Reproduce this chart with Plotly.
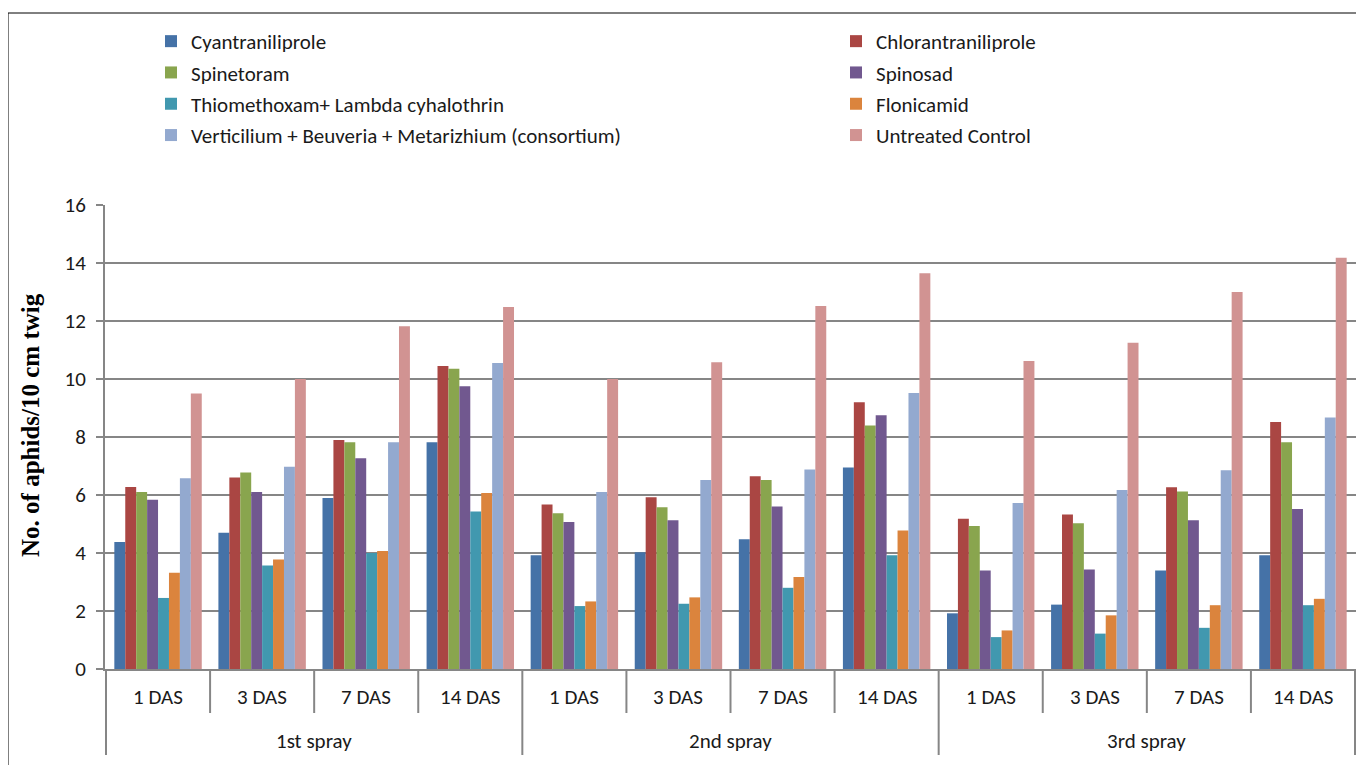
import plotly.graph_objects as go

sprays = ["1st spray", "2nd spray", "3rd spray"]
das = ["1 DAS", "3 DAS", "7 DAS", "14 DAS"]

treatments = [
    "Cyantraniliprole", "Chlorantraniliprole", "Spinetoram", "Spinosad",
    "Thiomethoxam+ Lambda cyhalothrin", "Flonicamid",
    "Verticilium + Beuveria + Metarizhium (consortium)", "Untreated Control",
]
colors = ["#4572A7", "#AA4643", "#89A54E", "#71588F", "#4198AF", "#DB843D", "#93A9CF", "#D19392"]

cyantraniliprole = [4.38, 4.70, 5.90, 7.82, 3.92, 4.03, 4.47, 6.95, 1.92, 2.22, 3.40, 3.92]
chlorantraniliprole = [6.28, 6.60, 7.90, 10.45, 5.67, 5.92, 6.65, 9.20, 5.18, 5.33, 6.27, 8.52]
spinetoram = [6.10, 6.78, 7.82, 10.35, 5.37, 5.58, 6.52, 8.40, 4.93, 5.03, 6.12, 7.82]
spinosad = [5.84, 6.10, 7.27, 9.75, 5.07, 5.13, 5.60, 8.75, 3.40, 3.43, 5.13, 5.52]
thiomethoxam = [2.45, 3.57, 4.00, 5.43, 2.17, 2.25, 2.80, 3.92, 1.10, 1.22, 1.42, 2.20]
flonicamid = [3.32, 3.78, 4.07, 6.07, 2.33, 2.47, 3.17, 4.78, 1.33, 1.85, 2.20, 2.42]
consortium = [6.58, 6.97, 7.82, 10.55, 6.10, 6.52, 6.88, 9.52, 5.72, 6.17, 6.85, 8.67]
control = [9.50, 10.00, 11.82, 12.48, 10.00, 10.58, 12.52, 13.65, 10.62, 11.25, 13.00, 14.18]

series = [cyantraniliprole, chlorantraniliprole, spinetoram, spinosad,
          thiomethoxam, flonicamid, consortium, control]

x_outer = [s for s in sprays for _ in das]
x_inner = [d for _ in sprays for d in das]

LABEL_FONT = "Calibri, Carlito, Liberation Sans Narrow, Arial Narrow, sans-serif"
GRID = "#868686"
TEXT = "#1a1a1a"

W, H = 1356, 757
ML, MR, MT, MB = 97, 8, 197, 96
PW, PH = W - ML - MR, H - MT - MB

fig = go.Figure()
for i, (name, vals, col) in enumerate(zip(treatments, series, colors)):
    fig.add_trace(go.Bar(
        x=[x_outer, x_inner], y=vals, name=name,
        marker=dict(color=col, line=dict(width=0)),
        legend="legend" if i % 2 == 0 else "legend2",
        legendgroup=str(i),
    ))

leg_common = dict(yanchor="top", xanchor="left", font=dict(size=21, color=TEXT),
                  tracegroupgap=1, bgcolor="rgba(0,0,0,0)", itemwidth=30)
fig.update_layout(
    width=W, height=H,
    margin=dict(l=ML, r=MR, t=MT, b=MB),
    paper_bgcolor="white", plot_bgcolor="white",
    barmode="group", bargap=0.16, bargroupgap=0,
    font=dict(family=LABEL_FONT, size=21, color=TEXT),
    showlegend=True,
    legend=dict(x=(143 - ML) / PW, y=1 + (MT - 13) / PH, **leg_common),
    legend2=dict(x=(828 - ML) / PW, y=1 + (MT - 13) / PH, **leg_common),
    xaxis=dict(
        type="multicategory", showline=True, linecolor=GRID, linewidth=2,
        showdividers=False, showticklabels=False, ticks="", showgrid=False,
    ),
    yaxis=dict(
        range=[0, 16], tick0=0, dtick=2, showgrid=True, gridcolor=GRID, gridwidth=2,
        showline=True, linecolor=GRID, linewidth=2, ticks="outside", ticklen=7,
        tickcolor=GRID, tickwidth=2, tickfont=dict(size=21, color=TEXT), zeroline=False,
        ticklabelstandoff=6,
    ),
)

# y-axis title
fig.add_annotation(x=(22 - ML) / PW, y=1 - (417 - MT) / PH, xref="paper", yref="paper",
                   text="<b>No. of aphids/10 cm twig</b>", textangle=-90, showarrow=False,
                   xanchor="center", yanchor="middle",
                   font=dict(family="Liberation Serif, Times New Roman, serif", size=25,
                             color="black"))

n = len(x_inner)
# first-row labels (DAS) and second-row labels (spray)
for k in range(n):
    fig.add_annotation(x=k, y=-28 / PH, xref="x", yref="paper", text=x_inner[k],
                       showarrow=False, yanchor="middle", font=dict(size=21))
for g, s in enumerate(sprays):
    fig.add_annotation(x=g * len(das) + (len(das) - 1) / 2, y=-72 / PH, xref="x", yref="paper",
                       text=s, showarrow=False, yanchor="middle", font=dict(size=21))

# dividers
for k in range(n + 1):
    long_div = k % len(das) == 0
    fig.add_shape(type="line", xref="x", yref="paper", x0=k - 0.5, x1=k - 0.5,
                  y0=0, y1=(-86 if long_div else -44) / PH,
                  line=dict(color=GRID, width=2))

# outer frame
fig.add_shape(type="rect", xref="paper", yref="paper",
              x0=(0 - ML) / PW, x1=1 + 30 / PW, y0=-200 / PH, y1=1 + (MT - 5) / PH,
              line=dict(color="black", width=1), fillcolor="rgba(0,0,0,0)", layer="below")

fig.write_html("out.html")
